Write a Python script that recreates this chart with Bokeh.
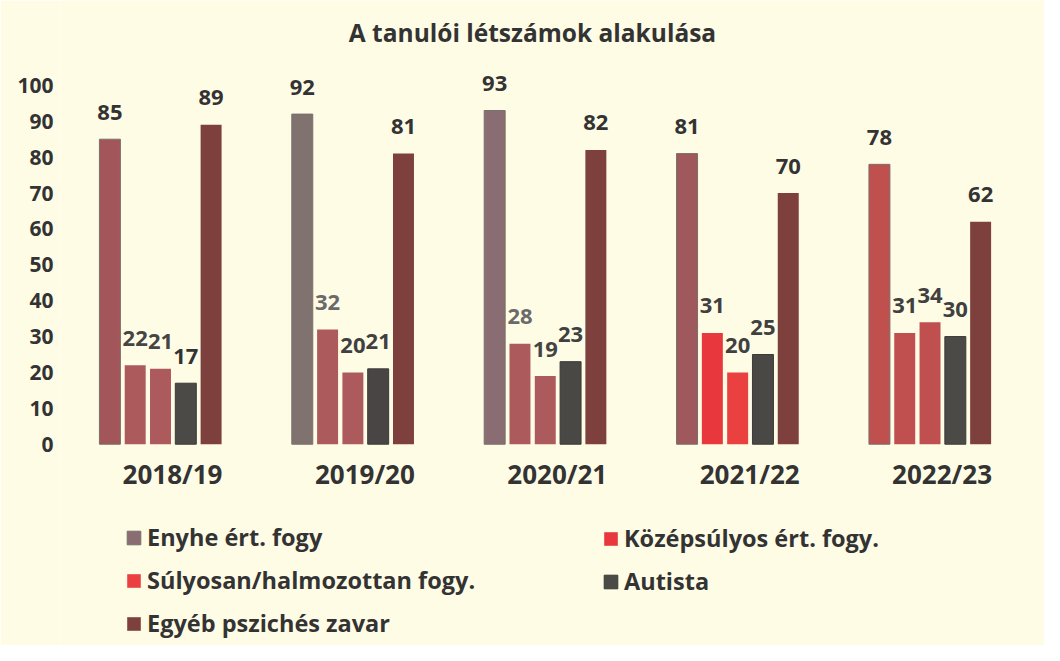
from bokeh.plotting import figure
from bokeh.models import ColumnDataSource, FixedTicker, Legend, LegendItem, Label, Range1d
from bokeh.core.properties import value
from bokeh.embed import file_html
from bokeh.resources import INLINE

# ---- data ----
title_text = "A tanulói létszámok alakulása"
years = ["2018/19", "2019/20", "2020/21", "2021/22", "2022/23"]
series_names = ["Enyhe ért. fogy", "Középsúlyos ért. fogy.",
                "Súlyosan/halmozottan fogy.", "Autista", "Egyéb pszichés zavar"]
enyhe = [85, 92, 93, 81, 78]
kozep = [22, 32, 28, 31, 31]
sulyos = [21, 20, 19, 20, 34]
autista = [17, 21, 23, 25, 30]
egyeb = [89, 81, 82, 70, 62]
y_ticks = [0, 10, 20, 30, 40, 50, 60, 70, 80, 90, 100]

# ---- styles ----
bar_colors = [
    ["#a3565a", "#80736f", "#8a6d72", "#9f585b", "#c0504d"],
    ["#ad5a5d", "#ad5a5d", "#ad5a5d", "#e8383e", "#c0504f"],
    ["#ad5a5d", "#ad5a5d", "#ad5a5d", "#ea4040", "#c0504f"],
    ["#4b4a46", "#4a4545", "#4a4844", "#4a4844", "#4b4a46"],
    ["#7d403c", "#7d403c", "#7d403c", "#7d403c", "#7d403c"],
]
bar_lines = ["#77706c", None, None, "#3a3a38", None]
legend_index = [2, 3, 3, 0, 0]
label_colors = [
    ["#333333", "#333333", "#333333", "#333333", "#333333"],
    ["#454545", "#6a6a6a", "#6a6a6a", "#404040", "#404040"],
    ["#454545", "#404040", "#444444", "#404040", "#404040"],
    ["#333333", "#404040", "#404040", "#404040", "#404040"],
    ["#333333", "#333333", "#333333", "#333333", "#333333"],
]
FONT = "Open Sans"
BG = "#fffce6"

all_series = [enyhe, kozep, sulyos, autista, egyeb]
step = 0.1315
bw = 0.109

p = figure(width=1044, height=645,
           x_range=Range1d(-0.525, 4.595), y_range=Range1d(-56.1, 123.66),
           x_axis_location=None, output_backend="svg", toolbar_location=None,
           min_border_left=59, min_border_right=0, min_border_top=0, min_border_bottom=0,
           background_fill_color=BG, border_fill_color=BG, outline_line_color=None)
p.grid.visible = False

ax = p.yaxis[0]
ax.ticker = FixedTicker(ticks=y_ticks)
ax.axis_line_color = None
ax.major_tick_line_color = None
ax.minor_tick_line_color = None
ax.major_tick_out = 0
ax.major_tick_in = 0
ax.major_label_standoff = 6
ax.major_label_text_font = FONT
ax.major_label_text_font_size = "21px"
ax.major_label_text_font_style = "bold"
ax.major_label_text_color = "#333333"

bar_rs = []
for s, vals in enumerate(all_series):
    xs = [i + (s - 2) * step for i in range(len(years))]
    src = ColumnDataSource(dict(x=xs, top=vals, color=bar_colors[s],
                                lbl=[str(v) for v in vals], lcol=label_colors[s]))
    r = p.vbar(x="x", top="top", bottom=0, width=bw, source=src,
               fill_color="color", line_color=bar_lines[s], line_width=1)
    bar_rs.append(r)
    p.text(x="x", y="top", text="lbl", source=src, text_color="lcol",
           text_font=value(FONT), text_font_size="22px", text_font_style="bold",
           text_align="center", text_baseline="alphabetic", y_offset=-27)

# category labels
csrc = ColumnDataSource(dict(x=list(range(len(years))), y=[0] * len(years), t=years))
p.text(x="x", y="y", text="t", source=csrc, text_font=value(FONT), text_font_size="26px",
       text_font_style="bold", text_color="#333333", text_align="center",
       text_baseline="alphabetic", x_offset=12, y_offset=30)

# title
p.add_layout(Label(x=473, y=613, x_units="screen", y_units="screen", text=title_text,
                   text_font=FONT, text_font_size="24.5px", text_font_style="bold",
                   text_color="#333333", text_align="center", text_baseline="alphabetic"))


def make_legend(idx, loc):
    lg = Legend(items=[LegendItem(label=series_names[k], renderers=[bar_rs[k]],
                                  index=legend_index[k]) for k in idx],
                location=loc, orientation="vertical",
                glyph_width=17, glyph_height=17, label_standoff=5,
                label_text_font=FONT, label_text_font_size="23.5px", label_text_font_style="bold",
                label_text_color="#333333", label_height=30, spacing=11,
                padding=0, margin=0, border_line_color=None, background_fill_alpha=0)
    p.add_layout(lg, "center")


make_legend([0, 2, 4], (66, 6))
make_legend([1, 3], (543, 48))

open("out.html", "w").write(file_html(p, INLINE))
